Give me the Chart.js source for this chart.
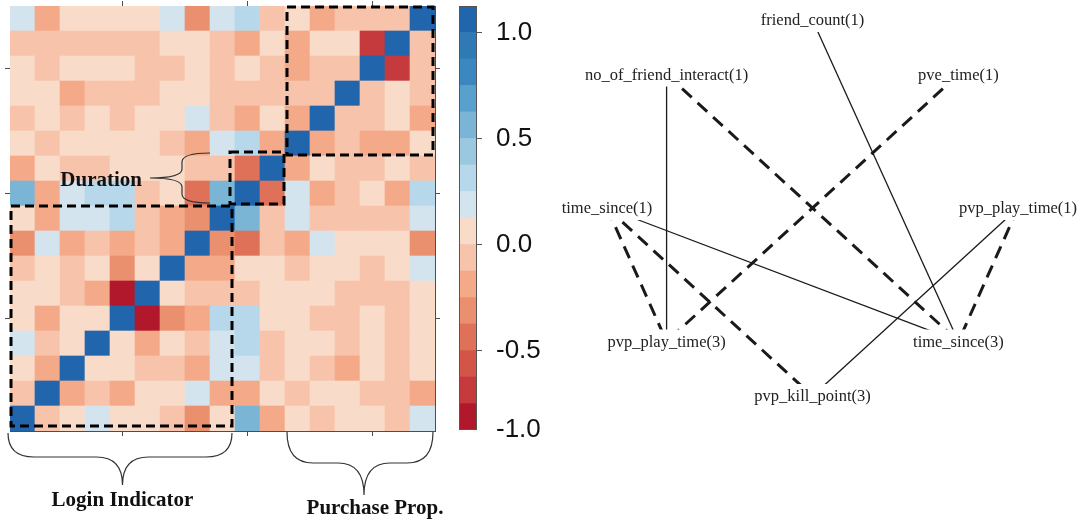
<!DOCTYPE html>
<html>
<head>
<meta charset="utf-8">
<script src="https://cdn.jsdelivr.net/npm/chart.js@4.4.1/dist/chart.umd.min.js"></script>
<style>
  html, body { margin: 0; padding: 0; background: #fff; }
  #wrap { position: relative; width: 1082px; height: 525px; overflow: hidden; }
  canvas { position: absolute; top: 0; }
  #heat { left: 0; }
  #legend { left: 450px; }
  #net { left: 540px; }
</style>
</head>
<body>
<div id="wrap">
  <canvas id="heat" width="450" height="525"></canvas>
  <canvas id="legend" width="100" height="525"></canvas>
  <canvas id="net" width="542" height="525"></canvas>
</div>
<script>
// variables of the correlation matrix, index 0 at the bottom-left
const variables = ['V1', 'V2', 'V3', 'V4', 'V5', 'V6', 'V7', 'V8', 'V9',
                   'V10', 'V11', 'V12', 'V13', 'V14', 'V15', 'V16', 'V17'];

// corr[i][j], row i = variable i (bottom row first)
const corr = [
  [1, -.18, -.05, .05, -.05, -.05, -.18, -.42, -.05, .45, -.3, -.05, -.18, -.05, -.05, -.18, .05],
  [-.18, 1, -.3, -.18, -.3, -.05, -.05, .05, -.3, -.3, -.05, -.18, -.05, -.05, -.18, -.18, -.3],
  [-.05, -.3, 1, -.05, -.05, -.18, -.18, -.3, .05, .05, -.18, -.05, -.18, -.3, -.05, -.18, -.05],
  [.05, -.18, -.05, 1, -.05, -.3, -.05, -.18, .05, .18, -.18, -.05, -.05, -.18, -.05, -.18, -.05],
  [-.05, -.3, -.05, -.05, 1, -.95, -.42, -.3, .18, .18, -.05, -.05, -.18, -.18, -.05, -.18, -.05],
  [-.05, -.05, -.18, -.3, -.95, 1, -.05, -.18, -.18, -.18, -.05, -.05, -.05, -.18, -.18, -.18, -.05],
  [-.18, -.05, -.18, -.05, -.42, -.05, 1, -.3, -.3, -.05, -.05, -.18, -.05, -.05, -.18, -.05, .05],
  [-.42, .05, -.3, -.18, -.3, -.18, -.3, 1, -.42, -.55, -.18, -.3, .05, -.05, -.05, -.05, -.42],
  [-.05, -.3, .05, .05, .18, -.18, -.3, -.42, 1, .45, -.18, .05, -.18, -.18, -.18, -.18, .05],
  [.45, -.3, .05, .18, .18, -.18, -.05, -.55, .45, 1, -.55, .05, -.3, -.18, -.05, -.3, .18],
  [-.3, -.05, -.18, -.18, -.05, -.05, -.05, -.18, -.18, -.55, 1, -.3, -.05, -.18, -.18, -.05, -.18],
  [-.05, -.18, -.05, -.05, -.05, -.05, -.18, -.3, .05, .18, -.3, 1, -.3, -.18, -.3, -.3, -.05],
  [-.18, -.05, -.18, -.05, -.18, -.05, -.05, .05, -.18, -.3, -.05, -.3, 1, -.18, -.18, -.05, -.3],
  [-.05, -.05, -.3, -.18, -.18, -.18, -.05, -.05, -.18, -.18, -.18, -.18, -.18, 1, -.18, -.05, -.18],
  [-.05, -.18, -.05, -.05, -.05, -.18, -.18, -.05, -.18, -.05, -.18, -.3, -.18, -.18, 1, -.8, -.18],
  [-.18, -.18, -.18, -.18, -.18, -.18, -.05, -.05, -.18, -.3, -.05, -.3, -.05, -.05, -.8, 1, -.18],
  [.05, -.3, -.05, -.05, -.05, -.05, .05, -.42, .05, .18, -.18, -.05, -.3, -.18, -.18, -.18, 1]
];

const axisTicks = [5, 10, 15];

// diagonal blocks marked with dashed boxes
const blockNames = ['Login Indicator', 'Duration', 'Purchase Prop.'];
const blockStart = [0, 9, 11];
const blockEnd = [8, 10, 16];

// colour legend
const binEdges = [-1, -0.875, -0.75, -0.625, -0.5, -0.375, -0.25, -0.125, 0,
                  0.125, 0.25, 0.375, 0.5, 0.625, 0.75, 0.875, 1];
const binColors = ['#b2182b', '#c43a3d', '#d35548', '#e07159', '#eb906f', '#f4a989', '#f7c4ab', '#f9dbc9',
                   '#d3e4ee', '#b7d8ea', '#9ac8e0', '#7ab5d6', '#5aa0cc', '#3b88c0', '#2f79b5', '#2166ac'];
const legendTickAt = [0.875, 0.375, -0.125, -0.625, -1];
const legendTickText = ['1.0', '0.5', '0.0', '-0.5', '-1.0'];

// network (circle layout)
const nodeNames = ['friend_count(1)', 'no_of_friend_interact(1)', 'pve_time(1)', 'time_since(1)',
                   'pvp_play_time(1)', 'pvp_play_time(3)', 'time_since(3)', 'pvp_kill_point(3)'];
const nodeX = [0, -0.71, 0.71, -1, 1, -0.71, 0.71, 0];
const nodeY = [1, 0.71, 0.71, 0, 0, -0.71, -0.71, -1];
const edgeFrom = [0, 1, 1, 2, 3, 3, 3, 4, 4];
const edgeTo = [6, 5, 6, 5, 6, 5, 7, 6, 7];
const edgeSign = [1, 1, -1, -1, 1, -1, -1, -1, 1];

const frame = '#4d4d4d';

function colorFor(v) {
  let k = 0;
  while (k < binColors.length - 1 && v >= binEdges[k + 1]) k++;
  return binColors[k];
}

function braceDown(ctx, x0, x1, yTop, yMid, yTip, cx, q) {
  ctx.beginPath();
  ctx.moveTo(x0, yTop);
  ctx.quadraticCurveTo(x0, yMid, x0 + q, yMid);
  ctx.lineTo(cx - q, yMid);
  ctx.quadraticCurveTo(cx, yMid, cx, yTip);
  ctx.quadraticCurveTo(cx, yMid, cx + q, yMid);
  ctx.lineTo(x1 - q, yMid);
  ctx.quadraticCurveTo(x1, yMid, x1, yTop);
  ctx.stroke();
}

function braceLeft(ctx, y0, y1, xBase, xMid, xTip, cy, q) {
  ctx.beginPath();
  ctx.moveTo(xBase, y0);
  ctx.quadraticCurveTo(xMid, y0, xMid, y0 + q);
  ctx.lineTo(xMid, cy - q);
  ctx.quadraticCurveTo(xMid, cy, xTip, cy);
  ctx.quadraticCurveTo(xMid, cy, xMid, cy + q);
  ctx.lineTo(xMid, y1 - q);
  ctx.quadraticCurveTo(xMid, y1, xBase, y1);
  ctx.stroke();
}

// small per-box nudges [left, right, top, bottom] so the dashes sit like the hand-drawn ones
const boxNudge = [[1, -3, 0, -5], [-5, -1, -4, -2], [2, -2, 1, -1]];

const heatNotes = {
  id: 'heatNotes',
  afterDraw(chart) {
    const ctx = chart.ctx;
    const x = chart.scales.x, y = chart.scales.y;
    const half = (x.getPixelForValue(1) - x.getPixelForValue(0)) / 2;
    const boxes = blockStart.map((s, k) => ({
      l: x.getPixelForValue(s) - half,
      r: x.getPixelForValue(blockEnd[k]) + half,
      t: y.getPixelForValue(blockEnd[k] + 1),
      b: y.getPixelForValue(s)
    }));
    ctx.save();
    ctx.strokeStyle = '#000';
    ctx.lineWidth = 3;
    ctx.setLineDash([9, 5]);
    boxes.forEach((b, k) => {
      const n = boxNudge[k];
      ctx.strokeRect(b.l + n[0], b.t + n[2], (b.r + n[1]) - (b.l + n[0]), (b.b + n[3]) - (b.t + n[2]));
    });
    ctx.setLineDash([]);
    ctx.strokeStyle = '#333';
    ctx.lineWidth = 1.2;
    ctx.fillStyle = '#111';
    ctx.font = 'bold 21px "Liberation Serif"';
    ctx.textBaseline = 'alphabetic';

    const bot = chart.chartArea.bottom;
    // login indicator
    let b = boxes[0];
    let cx = (b.l + b.r) / 2;
    braceDown(ctx, b.l - 2, b.r - 3, bot + 2, bot + 26, bot + 54, cx, 26);
    ctx.textAlign = 'center';
    ctx.fillText(blockNames[0], cx, bot + 75);
    // purchase prop.
    b = boxes[2];
    cx = (b.l + b.r) / 2;
    braceDown(ctx, b.l + 2, b.r - 2, bot + 1, bot + 32, bot + 64, cx + 4, 26);
    ctx.fillText(blockNames[2], cx + 15, bot + 83);
    // duration
    b = boxes[1];
    const xBase = b.l - 25, y0 = b.t - 3, y1 = b.b - 3, cy = (y0 + y1) / 2;
    braceLeft(ctx, y0, y1, xBase, xBase - 28, xBase - 60, cy, 9);
    ctx.textAlign = 'right';
    ctx.fillText(blockNames[1], xBase - 68, cy + 8);
    ctx.restore();
  }
};

const tickColorCat = c => axisTicks.includes(c.index + 1) ? frame : 'rgba(0,0,0,0)';
const catAxis = pos => ({
  type: 'category', axis: 'x', position: pos, offset: true, stacked: true,
  grid: { offset: false, drawOnChartArea: false, tickLength: 5, tickColor: tickColorCat, lineWidth: 1 },
  border: { display: true, color: frame, width: 1 },
  ticks: { display: false, autoSkip: false },
  afterFit: s => { s.height = 5; s.paddingLeft = 0; s.paddingRight = 0; }
});
const rowAxis = pos => ({
  type: 'linear', axis: 'y', position: pos, min: 0, max: variables.length, stacked: true,
  grid: { drawOnChartArea: false, tickLength: 5, tickColor: frame },
  border: { display: true, color: frame, width: 1 },
  ticks: { display: false },
  afterBuildTicks: s => { s.ticks = axisTicks.map(v => ({ value: v - 0.5 })); },
  afterFit: s => { s.width = 5; s.paddingTop = 0; s.paddingBottom = 0; }
});

new Chart(document.getElementById('heat'), {
  type: 'bar',
  data: {
    labels: variables,
    datasets: corr.map(row => ({
      data: row.map(() => 1),
      backgroundColor: row.map(colorFor),
      stack: 'm',
      barPercentage: 1,
      categoryPercentage: 1,
      borderWidth: 0
    }))
  },
  options: {
    responsive: false,
    animation: false,
    events: [],
    layout: { padding: { left: 5, top: 1, right: 10, bottom: 89 } },
    plugins: { legend: { display: false }, tooltip: { enabled: false } },
    scales: { x: catAxis('bottom'), x2: catAxis('top'), y: rowAxis('left'), y2: rowAxis('right') }
  },
  plugins: [heatNotes]
});

const legendFrame = {
  id: 'legendFrame',
  afterDatasetsDraw(chart) {
    const { ctx, chartArea: a } = chart;
    ctx.save();
    ctx.strokeStyle = '#555';
    ctx.lineWidth = 1;
    ctx.strokeRect(a.left + 0.5, a.top + 0.5, a.right - a.left - 1, a.bottom - a.top - 1);
    ctx.restore();
  }
};

new Chart(document.getElementById('legend'), {
  type: 'bar',
  data: {
    labels: [''],
    datasets: binColors.map((c, k) => ({
      data: [[binEdges[k], binEdges[k + 1]]],
      backgroundColor: c,
      grouped: false,
      barPercentage: 1,
      categoryPercentage: 1,
      borderWidth: 0
    }))
  },
  options: {
    responsive: false,
    animation: false,
    events: [],
    layout: { padding: { left: 9, top: 6, right: 0, bottom: 95 } },
    plugins: { legend: { display: false }, tooltip: { enabled: false } },
    scales: {
      x: { display: false },
      y: {
        position: 'right', min: -1, max: 1,
        grid: { drawOnChartArea: false, tickLength: 5,
                tickColor: c => (c.tick && c.tick.value === -1) ? 'rgba(0,0,0,0)' : '#555' },
        border: { display: false },
        ticks: {
          padding: 14, color: '#111',
          font: { family: 'Liberation Sans', size: 26 },
          callback: v => legendTickText[legendTickAt.indexOf(v)]
        },
        afterBuildTicks: s => { s.ticks = legendTickAt.map(v => ({ value: v })); },
        afterFit: s => { s.width = 73; s.paddingTop = 0; s.paddingBottom = 0; }
      }
    }
  },
  plugins: [legendFrame]
});

const netLabels = {
  id: 'netLabels',
  afterDatasetsDraw(chart) {
    const ctx = chart.ctx;
    const x = chart.scales.x, y = chart.scales.y;
    ctx.save();
    ctx.font = '16.5px "Liberation Serif"';
    ctx.textAlign = 'center';
    ctx.textBaseline = 'middle';
    nodeNames.forEach((name, i) => {
      const px = x.getPixelForValue(nodeX[i]);
      const py = y.getPixelForValue(nodeY[i]);
      const w = ctx.measureText(name).width;
      ctx.fillStyle = '#fff';
      ctx.fillRect(px - w / 2 - 2, py - 12, w + 4, 24);
      ctx.fillStyle = '#222';
      ctx.fillText(name, px, py + 1);
    });
    ctx.restore();
  }
};

new Chart(document.getElementById('net'), {
  type: 'scatter',
  data: {
    datasets: edgeFrom.map((a, k) => ({
      data: [{ x: nodeX[a], y: nodeY[a] }, { x: nodeX[edgeTo[k]], y: nodeY[edgeTo[k]] }],
      showLine: true,
      borderColor: '#1a1a1a',
      borderWidth: edgeSign[k] > 0 ? 1.3 : 3,
      borderDash: edgeSign[k] > 0 ? [] : [13, 8],
      pointRadius: 0,
      clip: false
    }))
  },
  options: {
    responsive: false,
    animation: false,
    events: [],
    layout: { padding: { left: 67, right: 64, top: 20, bottom: 129 } },
    plugins: { legend: { display: false }, tooltip: { enabled: false } },
    scales: {
      x: { type: 'linear', min: -1, max: 1, display: false },
      y: { type: 'linear', min: -1, max: 1, display: false }
    }
  },
  plugins: [netLabels]
});
</script>
</body>
</html>
